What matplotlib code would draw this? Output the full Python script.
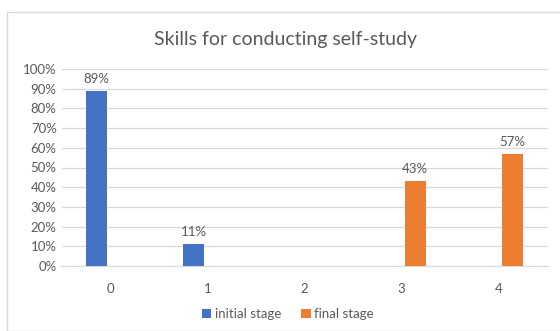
import numpy as np
import matplotlib.pyplot as plt
from matplotlib.patches import Rectangle

categories = ["0", "1", "2", "3", "4"]
initial_stage = [0.89, 0.11, 0, 0, 0]
final_stage = [0, 0, 0, 0.43, 0.57]

plt.rcParams['font.family'] = ['Lato', 'DejaVu Sans']
txt = '#595959'

fig = plt.figure(figsize=(5.6, 3.31), dpi=100)
ax = fig.add_axes([61.5/560, 1-266/331, 486/560, 197/331])

x = np.arange(len(categories))
w = 0.22
b1 = ax.bar(x - 0.14, initial_stage, w, color='#4472c4', label='initial stage', zorder=3)
b2 = ax.bar(x + 0.14, final_stage, w, color='#ed7d31', label='final stage', zorder=3)

for bars in (b1, b2):
    for r in bars:
        h = r.get_height()
        if h > 0:
            ax.text(r.get_x() + r.get_width()/2, h + 0.03, f"{h:.0%}", ha='center', va='bottom',
                    fontsize=9.5, color=txt)

ax.set_xlim(-0.5, 4.5)
ax.set_ylim(0, 1)
ax.set_yticks(np.arange(0, 1.01, 0.1))
ax.set_yticklabels([f"{int(round(v*100))}%" for v in np.arange(0, 1.01, 0.1)])
ax.set_xticks(x)
ax.set_xticklabels(categories)
ax.tick_params(axis='both', length=0, labelsize=9.5, colors=txt)
ax.tick_params(axis='x', pad=12)
ax.grid(axis='y', color='#d9d9d9', linewidth=0.9, zorder=0)
for s in ['top', 'right', 'left']:
    ax.spines[s].set_visible(False)
ax.spines['bottom'].set_color('#d9d9d9')

fig.text(285/560, 1-40/331, "Skills for conducting self-study", ha='center', va='center',
         fontsize=14, color=txt)
fig.legend(loc='center', bbox_to_anchor=(288/560, 1-314/331), ncol=2, frameon=False,
           fontsize=9.5, labelcolor=txt, handlelength=0.7, handleheight=0.7,
           handletextpad=0.3, columnspacing=1.5)

fig.patches.append(Rectangle((7/560, 0), 1, 1-12/331, transform=fig.transFigure,
                             fill=False, edgecolor='#d9d9d9', linewidth=1))

fig.savefig('out.png', dpi=100)
